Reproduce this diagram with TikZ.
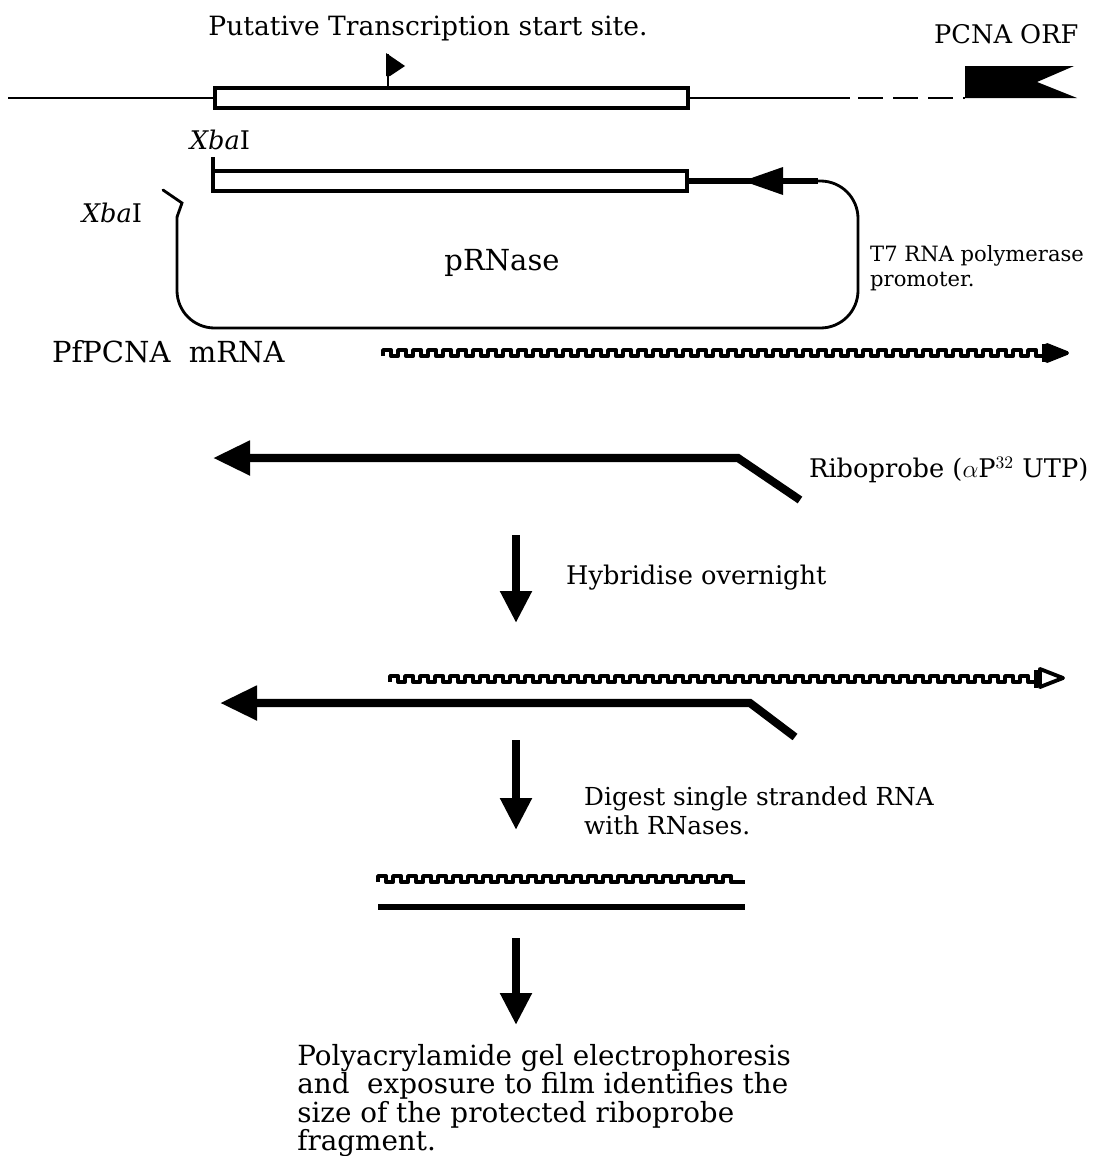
\documentclass[tikz,border=0pt]{standalone}
\usepackage{amsmath,amssymb}
\usepackage{fontspec}
\setmainfont{DejaVu Serif}
\usepackage{tikz}
\usetikzlibrary{arrows.meta,positioning,calc}

\tikzset{
  lbl/.style={font=\fontsize{14.6}{17}\selectfont},
  biglbl/.style={font=\fontsize{15.8}{16.2}\selectfont,align=left,inner sep=0pt},
  smalllbl/.style={font=\fontsize{12}{14}\selectfont,align=left},
  dna/.style={line width=1.2pt},
  insertbox/.style={draw,line width=1.8pt,fill=white},
  vector/.style={line width=1.6pt,line cap=round},
  promoter/.style={line width=3pt},
  rna/.style={line width=2.2pt,line join=round},
  probe/.style={line width=4.6pt,-{Triangle[length=7.4mm,width=6.6mm]}},
  steparrow/.style={line width=5pt,-{Triangle[length=6.4mm,width=6mm]}},
}

\begin{document}
\begin{tikzpicture}[x=0.2mm,y=-0.2mm]
  \useasboundingbox (0,0) rectangle (1096,1156);

  % genomic region
  \node[lbl,font=\fontsize{15.1}{18}\selectfont] (tss) at (428,28) {Putative Transcription start site.};
  \node[lbl,anchor=west] (orf) at (928,34) {PCNA ORF};
  \draw[dna] (8,98) -- (850,98);
  \draw[dna,dash pattern=on 5mm off 2mm] (858,98) -- (965,98);
  \fill (965,66) -- (1074,66) -- (1037,82) -- (1077,98) -- (965,98) -- cycle;
  \draw[insertbox] (215,88) rectangle (688,108);
  % start site flag
  \draw[line width=1.4pt] (388,88) -- (388,54);
  \fill (386,53) -- (405,66) -- (390,76) -- (386,76) -- cycle;

  % plasmid
  \node[lbl] (xba1) at (220,140) {\textit{Xba}I};
  \node[lbl] (xba2) at (112,213) {\textit{Xba}I};
  \draw[promoter] (687,181) -- (818,181);
  \fill (743,181) -- (783,167) -- (783,195) -- cycle;
  \draw[insertbox] (213,171) rectangle (687,191);
  \draw[line width=1.8pt] (213,157) -- (213,191);
  \draw[vector] (163,190) -- (182,203) -- (177,217);
  \draw[vector,rounded corners=7.5mm] (177,217) -- (177,328) -- (858,328)
        -- (858,181) -- (818,181);
  \node[lbl,font=\fontsize{16.5}{19}\selectfont] (pRNase) at (502,263) {pRNase};
  \node[smalllbl,anchor=west] (t7) at (864,268) {T7 RNA polymerase\\promoter.};

  % target mRNA
  \node[lbl,anchor=west,font=\fontsize{16.5}{19}\selectfont] (mrna) at (46,352) {PfPCNA\ \ mRNA};
  \draw[rna] (383,356) \foreach \i in {1,...,44} {-- ++(0,-6) -- ++(8,0) -- ++(0,6) -- ++(7,0)};
  \draw[rna] (1044,344) -- (1044,362);
  \draw[rna,fill] (1047,345) -- (1067,353) -- (1047,361) -- cycle;

  % riboprobe
  \draw[probe] (800,500) -- (738,458) -- (213,458);
  \node[lbl,anchor=west] (ribo) at (803,470) {Riboprobe ($\alpha$P$^{32}$ UTP)};
  \draw[steparrow] (516,535) -- (516,623);
  \node[lbl,anchor=west] (hyb) at (560,578) {Hybridise overnight};

  % hybrid
  \draw[rna] (390,682) \foreach \i in {1,...,43} {-- ++(0,-6) -- ++(8,0) -- ++(0,6) -- ++(7,0)};
  \draw[rna] (1036,670) -- (1036,688);
  \draw[rna,fill=white] (1040,669) -- (1063,678) -- (1040,687) -- cycle;
  \draw[probe] (795,737) -- (750,703) -- (220,703);
  \draw[steparrow] (516,740) -- (516,830);
  \node[lbl,anchor=west,align=left,font=\fontsize{14.1}{16.5}\selectfont] (digest) at (578,811) {Digest single stranded RNA\\with RNases.};

  % protected fragment
  \draw[rna] (378,882) \foreach \i in {1,...,24} {-- ++(0,-6) -- ++(8,0) -- ++(0,6) -- ++(7,0)} -- ++(7,0);
  \draw[line width=3.4pt] (378,907) -- (745,907);
  \draw[steparrow] (516,938) -- (516,1025);
  \node[biglbl,anchor=north west] (gel) at (297,1044)
       {Polyacrylamide gel electrophoresis\\and\ \ exposure to film identifies the\\size of the protected riboprobe\\fragment.};
\end{tikzpicture}
\end{document}
